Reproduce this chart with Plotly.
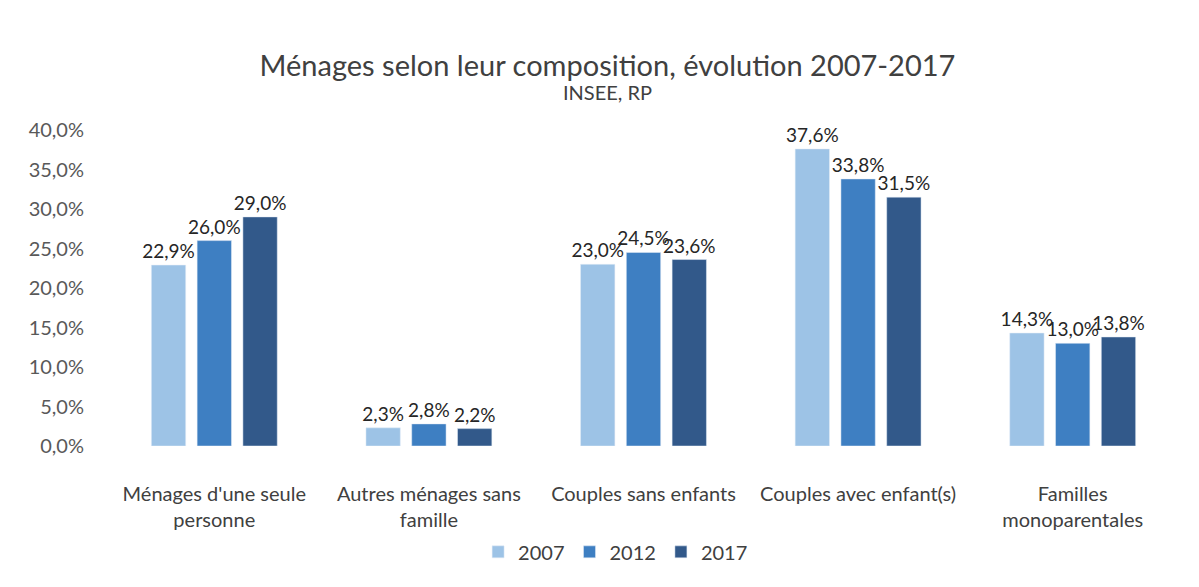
import plotly.graph_objects as go

categories = ["Ménages d'une seule<br>personne", "Autres ménages sans<br>famille",
              "Couples sans enfants", "Couples avec enfant(s)", "Familles<br>monoparentales"]
years = ["2007", "2012", "2017"]
v2007 = [22.9, 2.3, 23.0, 37.6, 14.3]
v2012 = [26.0, 2.8, 24.5, 33.8, 13.0]
v2017 = [29.0, 2.2, 23.6, 31.5, 13.8]
colors = ["#9dc3e6", "#3e7fc2", "#32598a"]

fig = go.Figure()
for name, vals, col in zip(years, [v2007, v2012, v2017], colors):
    fig.add_trace(go.Bar(x=categories, y=vals, name=name, marker_color=col,
                         texttemplate="%{y:.1f}%", textposition="outside",
                         constraintext="none",
                         textfont=dict(size=19, color="#262626"), cliponaxis=False))

fig.update_layout(
    width=1199, height=587,
    font=dict(family="Lato", color="#404040", size=20),
    separators=", ",
    paper_bgcolor="white", plot_bgcolor="white",
    title=dict(text="Ménages selon leur composition, évolution 2007-2017",
               x=0.5, xanchor="center", y=0.901, yanchor="middle",
               font=dict(size=29, color="#404040")),
    margin=dict(l=99, r=27, t=122, b=149),
    barmode="group", bargap=0.36, bargroupgap=0.25,
    legend=dict(orientation="h", x=0.474, xanchor="center", y=-0.335, yanchor="middle",
                font=dict(size=20, color="#404040"), itemwidth=30),
    xaxis=dict(showline=False, ticks="", tickfont=dict(size=20, color="#404040"),
               ticklabelstandoff=34),
    yaxis=dict(range=[0, 40], dtick=5, tickformat=".1f", ticksuffix="%",
               showgrid=False, zeroline=False, tickfont=dict(size=20, color="#595959"),
               ticklabelstandoff=22),
)
fig.add_annotation(text="INSEE, RP", xref="paper", yref="paper", x=0.4664, y=1.12,
                   xanchor="center", yanchor="middle", showarrow=False,
                   font=dict(size=20, color="#404040"))

fig.write_html("out.html")
